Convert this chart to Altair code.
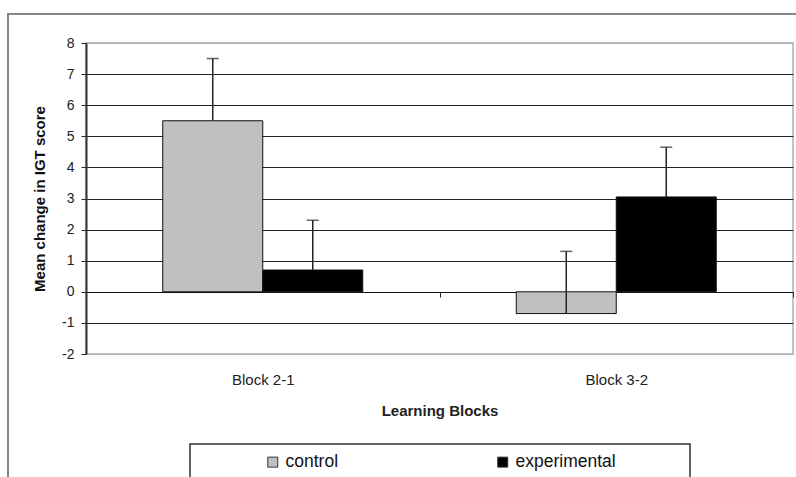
import altair as alt
import pandas as pd

blocks = ["Block 2-1", "Block 3-2"]
groups = ["control", "experimental"]
control_means = [5.5, -0.7]
control_errs = [2.0, 2.0]
experimental_means = [0.7, 3.05]
experimental_errs = [1.6, 1.6]
y_ticks = [-2, -1, 0, 1, 2, 3, 4, 5, 6, 7, 8]
group_colors = ["#c0c0c0", "#000000"]

rows = []
for i, b in enumerate(blocks):
    rows.append(dict(block=b, group="control", mean=control_means[i],
                     hi=control_means[i] + control_errs[i]))
    rows.append(dict(block=b, group="experimental", mean=experimental_means[i],
                     hi=experimental_means[i] + experimental_errs[i]))
df = pd.DataFrame(rows)

FONT = "Liberation Sans"

x_scale = alt.Scale(paddingInner=0, paddingOuter=0)
x_axis = alt.Axis(
    title="Learning Blocks", offset=-62, tickBand="extent", tickSize=5,
    tickColor="#222", domainColor="#111", domainWidth=1, tickWidth=1,
    labelAngle=0, labelFont=FONT, labelFontSize=15, labelColor="#222",
    labelPadding=75, titleFont=FONT, titleFontSize=15, titleFontWeight="bold",
    titleColor="#222", titlePadding=16, grid=False,
)
xoff = alt.XOffset("group:N", sort=groups,
                   scale=alt.Scale(paddingInner=0, paddingOuter=0.7675))
y_scale = alt.Scale(domain=[-2, 8], nice=False, zero=False)

y_axis = alt.Axis(
    values=y_ticks, title="Mean change in IGT score", grid=True,
    labelExpr="'' + datum.value",
    gridColor=alt.condition("datum.value == 8 || datum.value == -2",
                            alt.value("#b0b0b0"), alt.value("#222222")),
    gridWidth=1, tickSize=5, tickColor="#222", domainColor="#333", domainWidth=2,
    labelFont=FONT, labelFontSize=14, labelFontWeight="normal", labelColor="#222",
    labelPadding=7, titleFont=FONT, titleFontSize=15, titleFontWeight="bold",
    titleColor="#111", titlePadding=14,
)

x_enc = alt.X("block:N", sort=blocks, scale=x_scale, axis=x_axis)

bars = alt.Chart(df).mark_bar(stroke="#111", strokeWidth=1).encode(
    x=x_enc,
    xOffset=xoff,
    y=alt.Y("mean:Q", scale=y_scale, axis=y_axis),
    y2=alt.datum(0),
    fill=alt.Fill(
        "group:N", sort=groups,
        scale=alt.Scale(domain=groups, range=group_colors),
        legend=alt.Legend(
            title=None, orient="none", direction="horizontal", legendX=178, legendY=410,
            symbolType="square", symbolSize=100, symbolStrokeColor="#333",
            symbolStrokeWidth=1, symbolOpacity=1, labelFont=FONT, labelFontSize=17.5,
            labelColor="#111", columnPadding=155, labelOffset=4, padding=0,
        ),
    ),
)

err = alt.Chart(df).mark_rule(color="#222", strokeWidth=1.5).encode(
    x=x_enc,
    xOffset=xoff,
    y=alt.Y("mean:Q", scale=y_scale, axis=y_axis),
    y2="hi:Q",
)

caps = alt.Chart(df).mark_tick(color="#222", thickness=1.5, size=12).encode(
    x=x_enc,
    xOffset=xoff,
    y=alt.Y("hi:Q", scale=y_scale, axis=y_axis),
)

one = pd.DataFrame({"k": [0]})
frame = alt.Chart(one).mark_rect(fill=None, stroke="#888", strokeWidth=2, clip=False).encode(
    x=alt.value(-78), x2=alt.value(760), y=alt.value(-29), y2=alt.value(500)
)
legend_box = alt.Chart(one).mark_rect(fill=None, stroke="#333", strokeWidth=1.5, clip=False).encode(
    x=alt.value(104), x2=alt.value(604), y=alt.value(401), y2=alt.value(480)
)

chart = alt.layer(frame, bars, err, caps, legend_box).properties(
    width=707, height=311,
    autosize=alt.AutoSizeParams(type="none"),
    padding={"left": 86, "top": 43, "right": 3, "bottom": 123},
    background="white",
).configure_view(stroke="#b0b0b0", strokeWidth=1.5)

chart.save("out.html", embed_options={"renderer": "svg", "actions": False})
